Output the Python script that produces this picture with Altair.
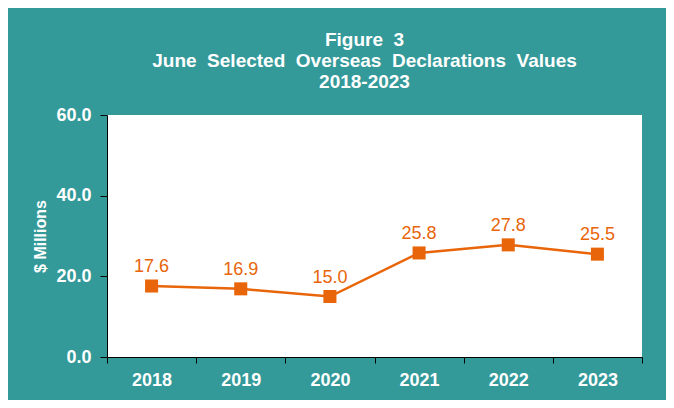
import altair as alt
import pandas as pd

years = ["2018", "2019", "2020", "2021", "2022", "2023"]
values = [17.6, 16.9, 15.0, 25.8, 27.8, 25.5]
y_ticks = [0, 20, 40, 60]
title_lines = ["Figure 3", "June Selected Overseas Declarations Values", "2018-2023"]

df = pd.DataFrame({"year": years, "value": values})

ORANGE = "#E8650A"
TEAL = "#339999"
FONT = "Liberation Sans"

# the reference title uses wide word spacing
title_text = [t.replace(" ", " \u00a0") for t in title_lines]

x = alt.X("year:N", bandPosition=0.5,
          scale=alt.Scale(type="band", paddingInner=0, paddingOuter=0),
          axis=alt.Axis(title=None, labelAngle=0, tickBand="extent", domainColor="#000000",
                        tickColor="#000000", tickSize=6, labelPadding=8,
                        labelFontSize=18, labelFontWeight="bold", labelColor="white",
                        labelFont=FONT))
y = alt.Y("value:Q", scale=alt.Scale(domain=[0, 60], nice=False),
          axis=alt.Axis(title="$ Millions", values=y_ticks, format=".1f", grid=False,
                        domainColor="#000000", tickColor="#000000", tickSize=7,
                        labelPadding=9, labelFontSize=18, labelFontWeight="bold",
                        labelColor="white", labelFont=FONT,
                        titleFontSize=16, titleFontWeight="bold", titleColor="white",
                        titleFont=FONT, titlePadding=7))

base = alt.Chart(df).encode(x=x, y=y)

line = base.mark_line(color=ORANGE, strokeWidth=2.5)
pts = base.mark_point(shape="square", filled=True, size=170, color=ORANGE, opacity=1)
labels = base.mark_text(color=ORANGE, fontSize=18, font=FONT, dy=-14,
                        baseline="alphabetic").encode(text=alt.Text("value:Q", format=".1f"))

chart = (line + pts + labels).properties(
    width=535, height=242,
    padding={"left": 99, "top": 107, "right": 24, "bottom": 43},
    autosize=alt.AutoSizeParams(type="none"),
    background=TEAL,
    title=alt.TitleParams(text=title_text, fontSize=19, fontWeight="bold", color="white",
                          font=FONT, anchor="middle", lineHeight=21, offset=14, dx=-10),
).configure_view(fill="white", stroke=None)

chart.save("out.html", embed_options={"renderer": "svg", "actions": False})
